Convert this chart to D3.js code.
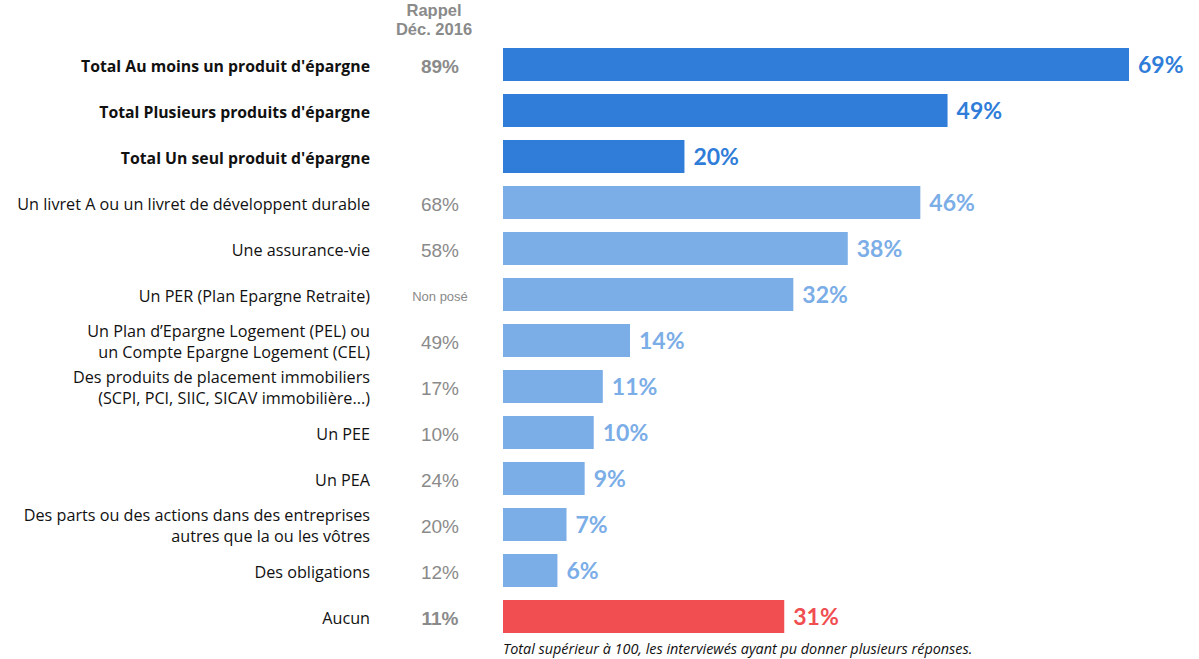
<!DOCTYPE html>
<html>
<head>
<meta charset="utf-8">
<script src="https://cdn.jsdelivr.net/npm/d3@7"></script>
<style>
    body { margin: 0; background: #fff; }
    svg { display: block; }
</style>
</head>
<body>
<main></main>
<script>
    const categories = [
        ["Total Au moins un produit d'épargne"],
        ["Total Plusieurs produits d'épargne"],
        ["Total Un seul produit d'épargne"],
        ["Un livret A ou un livret de développent durable"],
        ["Une assurance-vie"],
        ["Un PER (Plan Epargne Retraite)"],
        ["Un Plan d\u2019Epargne Logement (PEL) ou", "un Compte Epargne Logement (CEL)"],
        ["Des produits de placement immobiliers", "(SCPI, PCI, SIIC, SICAV immobilière...)"],
        ["Un PEE"],
        ["Un PEA"],
        ["Des parts ou des actions dans des entreprises", "autres que la ou les vôtres"],
        ["Des obligations"],
        ["Aucun"]
    ];
    const values = [69, 49, 20, 46, 38, 32, 14, 11, 10, 9, 7, 6, 31];
    const rappel = ["89%", "", "", "68%", "58%", "Non posé", "49%", "17%", "10%", "24%", "20%", "12%", "11%"];
    const groups = ["total", "total", "total", "item", "item", "item", "item", "item", "item", "item", "item", "item", "none"];

    const width = 1199;
    const height = 659;

    const colors = { total: "#2f7dd9", item: "#7bade7", none: "#f04e50" };

    const rows = d3.range(categories.length);

    const yScale = d3.scaleBand()
        .domain(rows)
        .range([41.5, 41.5 + 46 * rows.length])
        .paddingInner(0.283)
        .paddingOuter(0.1415);

    const xScale = d3.scaleLinear()
        .domain([0, 69])
        .range([503, 1129]);

    const svg = d3.select("main")
        .append("svg")
        .attr("width", width)
        .attr("height", height);

    // header of the reminder column
    svg.append("text")
        .attr("text-anchor", "middle")
        .style("font-family", "'Liberation Sans', Arial, sans-serif")
        .style("font-weight", "bold")
        .style("font-size", "16.5px")
        .attr("fill", "#8a8a8a")
        .selectAll("tspan")
        .data(["Rappel", "Déc. 2016"])
        .enter()
        .append("tspan")
        .attr("x", 434)
        .attr("y", (d, i) => 16 + i * 19)
        .text(d => d);

    // bars
    svg.selectAll(".bar")
        .data(rows)
        .enter()
        .append("rect")
        .attr("class", "bar")
        .attr("x", xScale(0))
        .attr("y", i => yScale(i))
        .attr("width", i => xScale(values[i]) - xScale(0))
        .attr("height", yScale.bandwidth())
        .attr("fill", i => colors[groups[i]]);

    // value labels
    svg.selectAll(".value")
        .data(rows)
        .enter()
        .append("text")
        .attr("class", "value")
        .attr("x", i => xScale(values[i]) + 9)
        .attr("y", i => yScale(i) + yScale.bandwidth() / 2)
        .attr("dy", "0.38em")
        .style("font-family", "Lato, sans-serif")
        .style("font-weight", "bold")
        .style("font-size", "23px")
        .attr("fill", i => colors[groups[i]])
        .text(i => values[i] + "%");

    // category labels
    const labels = svg.selectAll(".label")
        .data(rows)
        .enter()
        .append("text")
        .attr("class", "label")
        .attr("text-anchor", "end")
        .style("font-family", "'Open Sans', sans-serif")
        .style("font-size", i => groups[i] === "total" ? "15.8px" : "16.2px")
        .style("font-weight", i => groups[i] === "total" ? "bold" : "normal")
        .attr("fill", "#111");

    labels.selectAll("tspan")
        .data(i => categories[i].map((line, k) => ({ line, k, i, n: categories[i].length })))
        .enter()
        .append("tspan")
        .attr("x", 370)
        .attr("y", d => yScale(d.i) + yScale.bandwidth() / 2 + 1.5 + (d.k - (d.n - 1) / 2) * 21)
        .attr("dy", "0.35em")
        .text(d => d.line);

    // reminder values
    svg.selectAll(".rappel")
        .data(rows)
        .enter()
        .append("text")
        .attr("class", "rappel")
        .attr("x", 440)
        .attr("y", i => yScale(i) + yScale.bandwidth() / 2 + 1.5)
        .attr("dy", "0.36em")
        .attr("text-anchor", "middle")
        .style("font-family", "'Liberation Sans', Arial, sans-serif")
        .style("font-size", i => rappel[i] === "Non posé" ? "13px" : "19px")
        .style("font-weight", i => groups[i] === "item" ? "normal" : "bold")
        .attr("fill", "#8a8a8a")
        .text(i => rappel[i]);

    // footnote
    svg.append("text")
        .attr("x", 503)
        .attr("y", 654)
        .style("font-family", "'Open Sans', sans-serif")
        .style("font-style", "italic")
        .style("font-size", "14.4px")
        .attr("fill", "#111")
        .text("Total supérieur à 100, les interviewés ayant pu donner plusieurs réponses.");
</script>
</body>
</html>
